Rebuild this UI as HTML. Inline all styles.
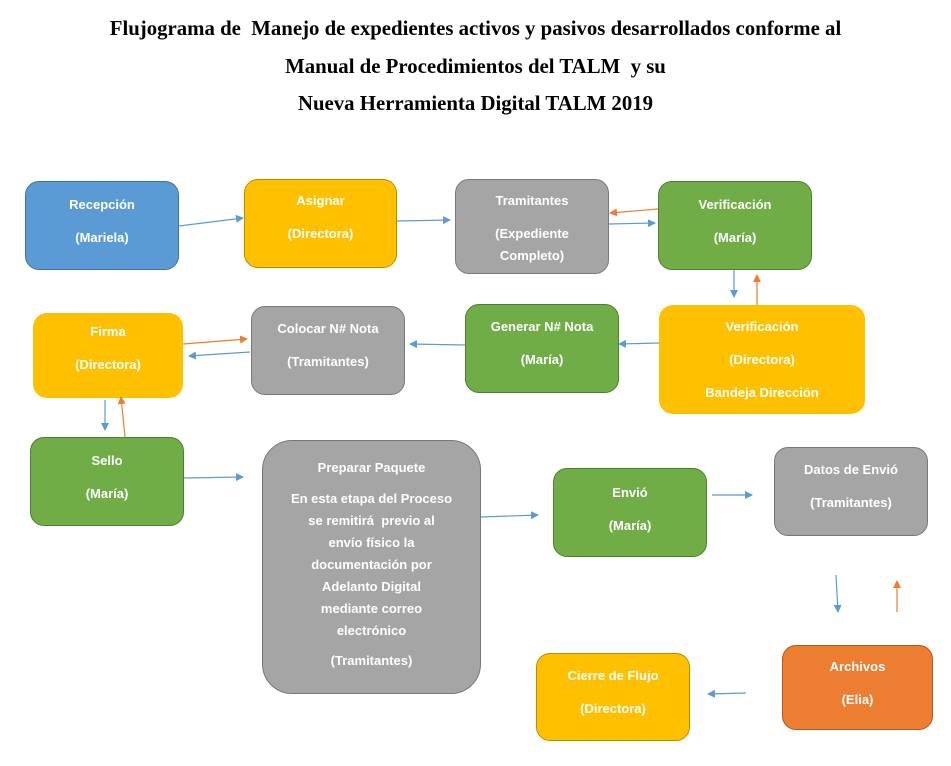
<!DOCTYPE html>
<html><head><meta charset="utf-8"><style>
body{margin:0;width:951px;height:766px;background:#fff;position:relative;overflow:hidden;font-family:"Liberation Sans",sans-serif}
.t{position:absolute;left:0;width:951px;text-align:center;font-family:"Liberation Serif",serif;font-weight:bold;font-size:20.8px;color:#000;white-space:nowrap}
.b{position:absolute;box-sizing:border-box;border-radius:14px;color:#fff;font-size:13px;font-weight:bold;text-align:center;display:flex;flex-direction:column;align-items:center;padding-top:14px}
.b p{margin:0 0 16px 0;line-height:17px}
.bl{background:#5b9bd5;border:1.5px solid #41719c}
.y{background:#ffc000;border:1.5px solid #bc8c00}
.g{background:#a5a5a5;border:1.5px solid #787878}
.gr{background:#70ad47;border:1.5px solid #507e32}
.o{background:#ed7d31;border:1.5px solid #ae5a21}
svg{position:absolute;left:0;top:0}
</style></head><body>
<div class="t" style="top:17px">Flujograma de &nbsp;Manejo de expedientes activos y pasivos desarrollados conforme al</div>
<div class="t" style="top:55px">Manual de Procedimientos del TALM &nbsp;y su</div>
<div class="t" style="top:92px">Nueva Herramienta Digital TALM 2019</div>

<div class="b bl" style="left:25px;top:181px;width:154px;height:89px"><p>Recepción</p><p>(Mariela)</p></div>
<div class="b y" style="left:244px;top:179px;width:153px;height:89px;padding-top:12px"><p>Asignar</p><p>(Directora)</p></div>
<div class="b g" style="left:455px;top:179px;width:154px;height:95px;padding-top:12px"><p>Tramitantes</p><p style="margin-bottom:5px">(Expediente</p><p>Completo)</p></div>
<div class="b gr" style="left:658px;top:181px;width:154px;height:89px"><p>Verificación</p><p>(María)</p></div>
<div class="b y" style="left:33px;top:313px;width:150px;height:85px;border:none;padding-top:10px"><p>Firma</p><p>(Directora)</p></div>
<div class="b g" style="left:251px;top:306px;width:154px;height:89px;padding-top:13px"><p>Colocar N# Nota</p><p>(Tramitantes)</p></div>
<div class="b gr" style="left:465px;top:304px;width:154px;height:89px;padding-top:13px"><p>Generar N# Nota</p><p>(María)</p></div>
<div class="b y" style="left:659px;top:305px;width:206px;height:109px;border:none;padding-top:13px"><p>Verificación</p><p>(Directora)</p><p>Bandeja Dirección</p></div>
<div class="b gr" style="left:30px;top:437px;width:154px;height:89px;padding-top:14px"><p>Sello</p><p>(María)</p></div>
<div class="b g" style="left:262px;top:440px;width:219px;height:254px;border-radius:30px;padding-top:18px"><p style="margin-bottom:12px">Preparar Paquete</p><p style="margin-bottom:10px;line-height:22px">En esta etapa del Proceso<br>se remitirá &nbsp;previo al<br>envío físico la<br>documentación por<br>Adelanto Digital<br>mediante correo<br>electrónico</p><p>(Tramitantes)</p></div>
<div class="b gr" style="left:553px;top:468px;width:154px;height:89px;padding-top:15px"><p>Envió</p><p>(María)</p></div>
<div class="b g" style="left:774px;top:447px;width:154px;height:89px;padding-top:13px"><p>Datos de Envió</p><p>(Tramitantes)</p></div>
<div class="b o" style="left:782px;top:645px;width:151px;height:85px;padding-top:12px"><p>Archivos</p><p>(Elia)</p></div>
<div class="b y" style="left:536px;top:653px;width:154px;height:88px;padding-top:13px"><p>Cierre de Flujo</p><p>(Directora)</p></div>

<svg width="951" height="766">
<defs>
<marker id="ab" markerWidth="8" markerHeight="8" refX="7" refY="4" orient="auto" markerUnits="userSpaceOnUse"><path d="M0,0 L8,4 L0,8z" fill="#5b9bd5"/></marker>
<marker id="ao" markerWidth="8" markerHeight="8" refX="7" refY="4" orient="auto" markerUnits="userSpaceOnUse"><path d="M0,0 L8,4 L0,8z" fill="#ed7d31"/></marker>
</defs>
<g stroke-width="1.2" fill="none">
<line x1="179" y1="226" x2="243" y2="218" stroke="#5b9bd5" marker-end="url(#ab)"/>
<line x1="397" y1="221" x2="450" y2="220" stroke="#5b9bd5" marker-end="url(#ab)"/>
<line x1="609" y1="224" x2="655" y2="223" stroke="#5b9bd5" marker-end="url(#ab)"/>
<line x1="658" y1="209" x2="610" y2="213" stroke="#ed7d31" marker-end="url(#ao)"/>
<line x1="734" y1="270" x2="734" y2="297" stroke="#5b9bd5" marker-end="url(#ab)"/>
<line x1="757" y1="305" x2="757" y2="275" stroke="#ed7d31" marker-end="url(#ao)"/>
<line x1="659" y1="343" x2="619" y2="344" stroke="#5b9bd5" marker-end="url(#ab)"/>
<line x1="465" y1="345" x2="410" y2="344" stroke="#5b9bd5" marker-end="url(#ab)"/>
<line x1="183" y1="344" x2="247" y2="339" stroke="#ed7d31" marker-end="url(#ao)"/>
<line x1="250" y1="352" x2="189" y2="356" stroke="#5b9bd5" marker-end="url(#ab)"/>
<line x1="105" y1="400" x2="105" y2="430" stroke="#5b9bd5" marker-end="url(#ab)"/>
<line x1="125" y1="437" x2="121" y2="397" stroke="#ed7d31" marker-end="url(#ao)"/>
<line x1="184" y1="478" x2="243" y2="477" stroke="#5b9bd5" marker-end="url(#ab)"/>
<line x1="481" y1="517" x2="538" y2="515" stroke="#5b9bd5" marker-end="url(#ab)"/>
<line x1="712" y1="495" x2="752" y2="495" stroke="#5b9bd5" marker-end="url(#ab)"/>
<line x1="836" y1="575" x2="838" y2="612" stroke="#5b9bd5" marker-end="url(#ab)"/>
<line x1="897" y1="612" x2="897" y2="581" stroke="#ed7d31" marker-end="url(#ao)"/>
<line x1="746" y1="693" x2="708" y2="694" stroke="#5b9bd5" marker-end="url(#ab)"/>
</g>
</svg>
</body></html>
